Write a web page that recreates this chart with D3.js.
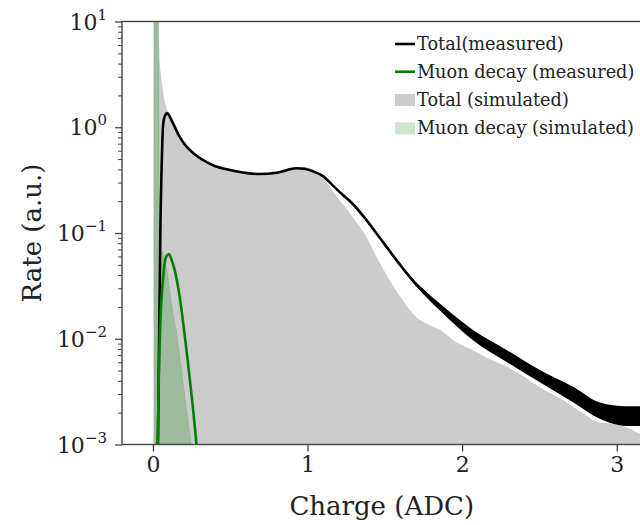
<!DOCTYPE html>
<html>
<head>
<meta charset="utf-8">
<script src="https://cdn.jsdelivr.net/npm/d3@7"></script>
<style>
  html, body { margin: 0; padding: 0; background: #fff; }
  svg { display: block; font-family: "DejaVu Serif", serif; }
</style>
</head>
<body>
<svg id="chart" width="640" height="525"></svg>
<script>
// ---------- data ----------
const xTicks = [0, 1, 2, 3];
const yTickExps = [1, 0, -1, -2, -3];

// Total (measured) – black line
const measX = [0.032, 0.036, 0.04, 0.044, 0.048, 0.056, 0.065, 0.075, 0.093, 0.11, 0.13, 0.173, 0.216, 0.26, 0.345, 0.4, 0.5, 0.6, 0.69, 0.8, 0.87, 0.93, 0.98, 1.03, 1.1, 1.16, 1.22, 1.29, 1.38, 1.467, 1.59, 1.7, 1.81, 1.856, 1.95, 2.07, 2.18, 2.29, 2.4, 2.5, 2.6, 2.72, 2.8, 2.89, 2.95, 3.04, 3.16];
const measTotal = [0.001, 0.003, 0.01, 0.03, 0.1, 0.4, 1.0, 1.25, 1.36, 1.25, 1.09, 0.81, 0.66, 0.57, 0.47, 0.43, 0.394, 0.37, 0.361, 0.372, 0.395, 0.41, 0.405, 0.385, 0.345, 0.285, 0.235, 0.19, 0.133, 0.09, 0.052, 0.033, 0.0232, 0.0201, 0.0148, 0.0108, 0.0085, 0.0068, 0.0057, 0.0045, 0.0038, 0.003, 0.0025, 0.0021, 0.00195, 0.0019, 0.0019];

// noise envelope of the measured total in the tail
const noiseX = [1.55, 1.7, 1.856, 2.07, 2.29, 2.5, 2.72, 2.89, 3.06, 3.16];
const noiseHi = [0.0605, 0.0345, 0.0215, 0.0121, 0.0078, 0.0051, 0.0035, 0.0025, 0.0023, 0.0023];
const noiseLo = [0.0595, 0.0315, 0.0185, 0.0097, 0.0060, 0.0039, 0.0025, 0.00175, 0.0015, 0.0015];

// Muon decay (measured) – green line
const muMeasX = [0.031, 0.036, 0.043, 0.05, 0.065, 0.076, 0.087, 0.104, 0.12, 0.14, 0.173, 0.2, 0.227, 0.255, 0.281, 0.29];
const muMeas = [0.0008, 0.003, 0.0084, 0.017, 0.036, 0.052, 0.06, 0.0632, 0.056, 0.045, 0.025, 0.0126, 0.00586, 0.0025, 0.00102, 0.0007];

// Total (simulated) – grey area
const simX = [0.005, 0.03, 0.036, 0.043, 0.054, 0.07, 0.086, 0.095, 0.11, 0.13, 0.173, 0.216, 0.26, 0.345, 0.4, 0.5, 0.6, 0.69, 0.8, 0.87, 0.93, 0.98, 1.03, 1.1, 1.19, 1.28, 1.38, 1.45, 1.53, 1.6, 1.7, 1.8, 1.86, 1.95, 2.07, 2.18, 2.29, 2.4, 2.5, 2.6, 2.72, 2.8, 2.87, 2.95, 3.05, 3.16];
const simTotal = [20, 20, 10, 4.5, 3.0, 2.0, 1.56, 1.42, 1.27, 1.09, 0.81, 0.66, 0.57, 0.47, 0.43, 0.394, 0.37, 0.361, 0.375, 0.4, 0.42, 0.42, 0.4, 0.33, 0.22, 0.15, 0.092, 0.058, 0.036, 0.025, 0.0162, 0.0132, 0.0121, 0.0095, 0.0078, 0.0064, 0.00545, 0.0044, 0.0035, 0.0029, 0.00228, 0.0019, 0.00164, 0.00158, 0.00148, 0.00123];

// Muon decay (simulated) – light green area
const muSimX = [0.006, 0.036, 0.042, 0.05, 0.065, 0.09, 0.11, 0.13, 0.151, 0.17, 0.194, 0.22, 0.248, 0.26];
const muSim = [20, 20, 0.07, 0.068, 0.066, 0.045, 0.028, 0.0174, 0.0121, 0.0075, 0.0041, 0.002, 0.001, 0.0007];

const legendItems = [
  { label: "Total(measured)", type: "line", color: "#000000" },
  { label: "Muon decay (measured)", type: "line", color: "#008000" },
  { label: "Total (simulated)", type: "patch", color: "#808080", alpha: 0.4 },
  { label: "Muon decay (simulated)", type: "patch", color: "#008000", alpha: 0.2 }
];

// ---------- layout ----------
const L = 122, R = 641.5, T = 21.5, B = 444.5;
const svg = d3.select("#chart");

const x = d3.scaleLinear().domain([-0.2, 3.16]).range([L, R]);
const y = d3.scaleLog().domain([1e-3, 10]).range([B, T]);

svg.append("defs").append("clipPath").attr("id", "clip")
  .append("rect").attr("x", L).attr("y", T).attr("width", R - L).attr("height", B - T);

const plot = svg.append("g").attr("clip-path", "url(#clip)");

const zip = (xs, ys) => xs.map((v, i) => [v, ys[i]]);

const area = d3.area().x(d => x(d[0])).y0(B).y1(d => y(d[1]));
const line = d3.line().x(d => x(d[0])).y(d => y(d[1])).curve(d3.curveMonotoneX);
const areaSmooth = d3.area().x(d => x(d[0])).y0(B).y1(d => y(d[1])).curve(d3.curveMonotoneX);

plot.append("path").datum(zip(simX, simTotal))
  .attr("d", areaSmooth).attr("fill", "#808080").attr("fill-opacity", 0.4);

plot.append("path").datum(zip(muSimX, muSim))
  .attr("d", area).attr("fill", "#008000").attr("fill-opacity", 0.22)
  .attr("stroke", "#008000").attr("stroke-opacity", 0.12).attr("stroke-width", 1);

// noise band
const band = d3.area().x(d => x(d[0])).y0(d => y(d[2])).y1(d => y(d[1])).curve(d3.curveMonotoneX);
plot.append("path").datum(noiseX.map((v, i) => [v, noiseHi[i], noiseLo[i]]))
  .attr("d", band).attr("fill", "#000");

plot.append("path").datum(zip(measX, measTotal))
  .attr("d", line).attr("fill", "none").attr("stroke", "#000").attr("stroke-width", 2.6)
  .attr("stroke-linejoin", "round");

plot.append("path").datum(zip(muMeasX, muMeas))
  .attr("d", line).attr("fill", "none").attr("stroke", "#008000").attr("stroke-width", 2.6)
  .attr("stroke-linejoin", "round");

// ---------- axes ----------
const axisColor = "#444";
const xAxis = svg.append("g").attr("transform", `translate(0,${B})`)
  .call(d3.axisBottom(x).tickValues(xTicks).tickSize(7).tickPadding(5).tickFormat(d3.format("d")));
xAxis.select(".domain").remove();
xAxis.selectAll("line").attr("stroke", axisColor).attr("stroke-width", 1.3);
xAxis.selectAll("text").attr("font-size", 22).attr("font-family", "DejaVu Serif").attr("fill", "#222");

const minor = [];
for (let e = -3; e < 1; e++) for (let m = 2; m <= 9; m++) minor.push(m * Math.pow(10, e));
const yMinor = svg.append("g").attr("transform", `translate(${L},0)`)
  .call(d3.axisLeft(y).tickValues(minor).tickSize(4).tickFormat(""));
yMinor.select(".domain").remove();
yMinor.selectAll("line").attr("stroke", axisColor).attr("stroke-width", 1);

const yMajor = svg.append("g").attr("transform", `translate(${L},0)`)
  .call(d3.axisLeft(y).tickValues(yTickExps.map(e => Math.pow(10, e))).tickSize(7).tickFormat(""));
yMajor.select(".domain").remove();
yMajor.selectAll("line").attr("stroke", axisColor).attr("stroke-width", 1.3);

const yLabels = svg.append("g");
yTickExps.forEach(e => {
  const t = yLabels.append("text")
    .attr("x", L - 15).attr("y", y(Math.pow(10, e)) + 8)
    .attr("text-anchor", "end").attr("fill", "#222").attr("font-size", 22);
  t.append("tspan").text("10");
  t.append("tspan").attr("dy", -10).attr("font-size", 15)
    .text(e < 0 ? "\u2212" + Math.abs(e) : String(e));
});

// spines
svg.append("rect").attr("x", L).attr("y", T).attr("width", R - L).attr("height", B - T)
  .attr("fill", "none").attr("stroke", axisColor).attr("stroke-width", 1.4);

// axis titles
svg.append("text").attr("x", (L + R) / 2).attr("y", 515)
  .attr("text-anchor", "middle").attr("font-size", 26).attr("fill", "#222")
  .text("Charge (ADC)");
svg.append("text").attr("transform", `translate(41,${(T + B) / 2}) rotate(-90)`)
  .attr("text-anchor", "middle").attr("font-size", 26).attr("fill", "#222")
  .text("Rate (a.u.)");

// ---------- legend ----------
const lg = svg.append("g");
const rowY = [44, 71.7, 100, 128.3];
legendItems.forEach((it, i) => {
  const cy = rowY[i];
  if (it.type === "line") {
    lg.append("line").attr("x1", 395).attr("x2", 415).attr("y1", cy).attr("y2", cy)
      .attr("stroke", it.color).attr("stroke-width", 2.6);
  } else {
    lg.append("rect").attr("x", 395).attr("y", cy - 6).attr("width", 20).attr("height", 12)
      .attr("fill", it.color).attr("fill-opacity", it.alpha);
  }
  lg.append("text").attr("x", 417).attr("y", cy + 6)
    .attr("font-size", 17.7).attr("fill", "#222").text(it.label);
});
</script>
</body>
</html>
